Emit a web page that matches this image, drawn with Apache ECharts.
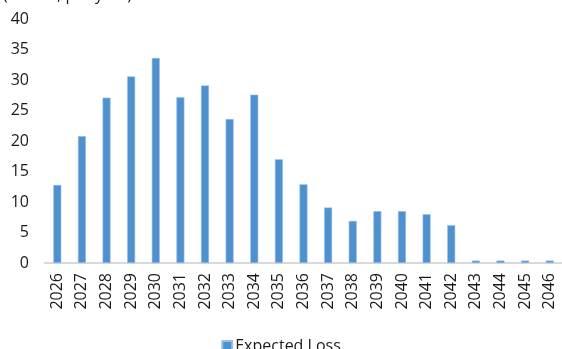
<!DOCTYPE html>
<html>
<head>
<meta charset="utf-8">
<script src="https://cdn.jsdelivr.net/npm/echarts@6/dist/echarts.min.js"></script>
<style>
  html, body { margin: 0; padding: 0; background: #ffffff; }
  #chart { width: 562px; height: 349px; }
</style>
</head>
<body>
<div id="chart"></div>
<script>
// Years on the category axis
const years = ['2026', '2027', '2028', '2029', '2030', '2031', '2032', '2033', '2034', '2035',
               '2036', '2037', '2038', '2039', '2040', '2041', '2042', '2043', '2044', '2045', '2046'];

// Expected loss per year
const expectedLoss = [12.8, 20.8, 27.1, 30.6, 33.6, 27.2, 29.1, 23.6, 27.6, 17.0,
                      12.9, 9.1, 6.9, 8.5, 8.5, 8.0, 6.2, 0.4, 0.4, 0.4, 0.4];

const seriesName = 'Expected Loss';
const unitLabel = '(EUR m, per year)';

const FONT = '"Open Sans", "Noto Sans", sans-serif';

const chart = echarts.init(document.getElementById('chart'), null, { renderer: 'canvas' });

chart.setOption({
  animation: false,
  backgroundColor: '#ffffff',
  title: {
    text: unitLabel,
    left: -2,
    top: -18,
    textStyle: { fontFamily: FONT, fontSize: 16, fontWeight: 'normal', color: '#1a1a1a' }
  },
  grid: { left: 45, right: 0, top: 19, bottom: 86, containLabel: false },
  legend: {
    data: [seriesName],
    bottom: -10,
    left: 'center',
    itemWidth: 10,
    itemHeight: 10,
    itemGap: 4,
    icon: 'rect',
    textStyle: { fontFamily: FONT, fontSize: 16, color: '#1a1a1a', padding: [0, 0, 0, -2] }
  },
  xAxis: {
    type: 'category',
    data: years,
    axisLine: { lineStyle: { color: '#d9d9d9', width: 2 } },
    axisTick: { show: false },
    axisLabel: {
      rotate: 90,
      margin: 10,
      fontFamily: FONT,
      fontSize: 16,
      color: '#1a1a1a'
    }
  },
  yAxis: {
    type: 'value',
    min: 0,
    max: 40,
    interval: 5,
    axisLine: { show: false },
    axisTick: { show: false },
    splitLine: { show: false },
    axisLabel: { margin: 16, fontFamily: FONT, fontSize: 16, color: '#1a1a1a' }
  },
  series: [{
    name: seriesName,
    type: 'bar',
    data: expectedLoss,
    barWidth: 8,
    itemStyle: { color: '#4e91cf', borderColor: '#9cc0e6', borderWidth: 0.6 }
  }]
});
</script>
</body>
</html>
